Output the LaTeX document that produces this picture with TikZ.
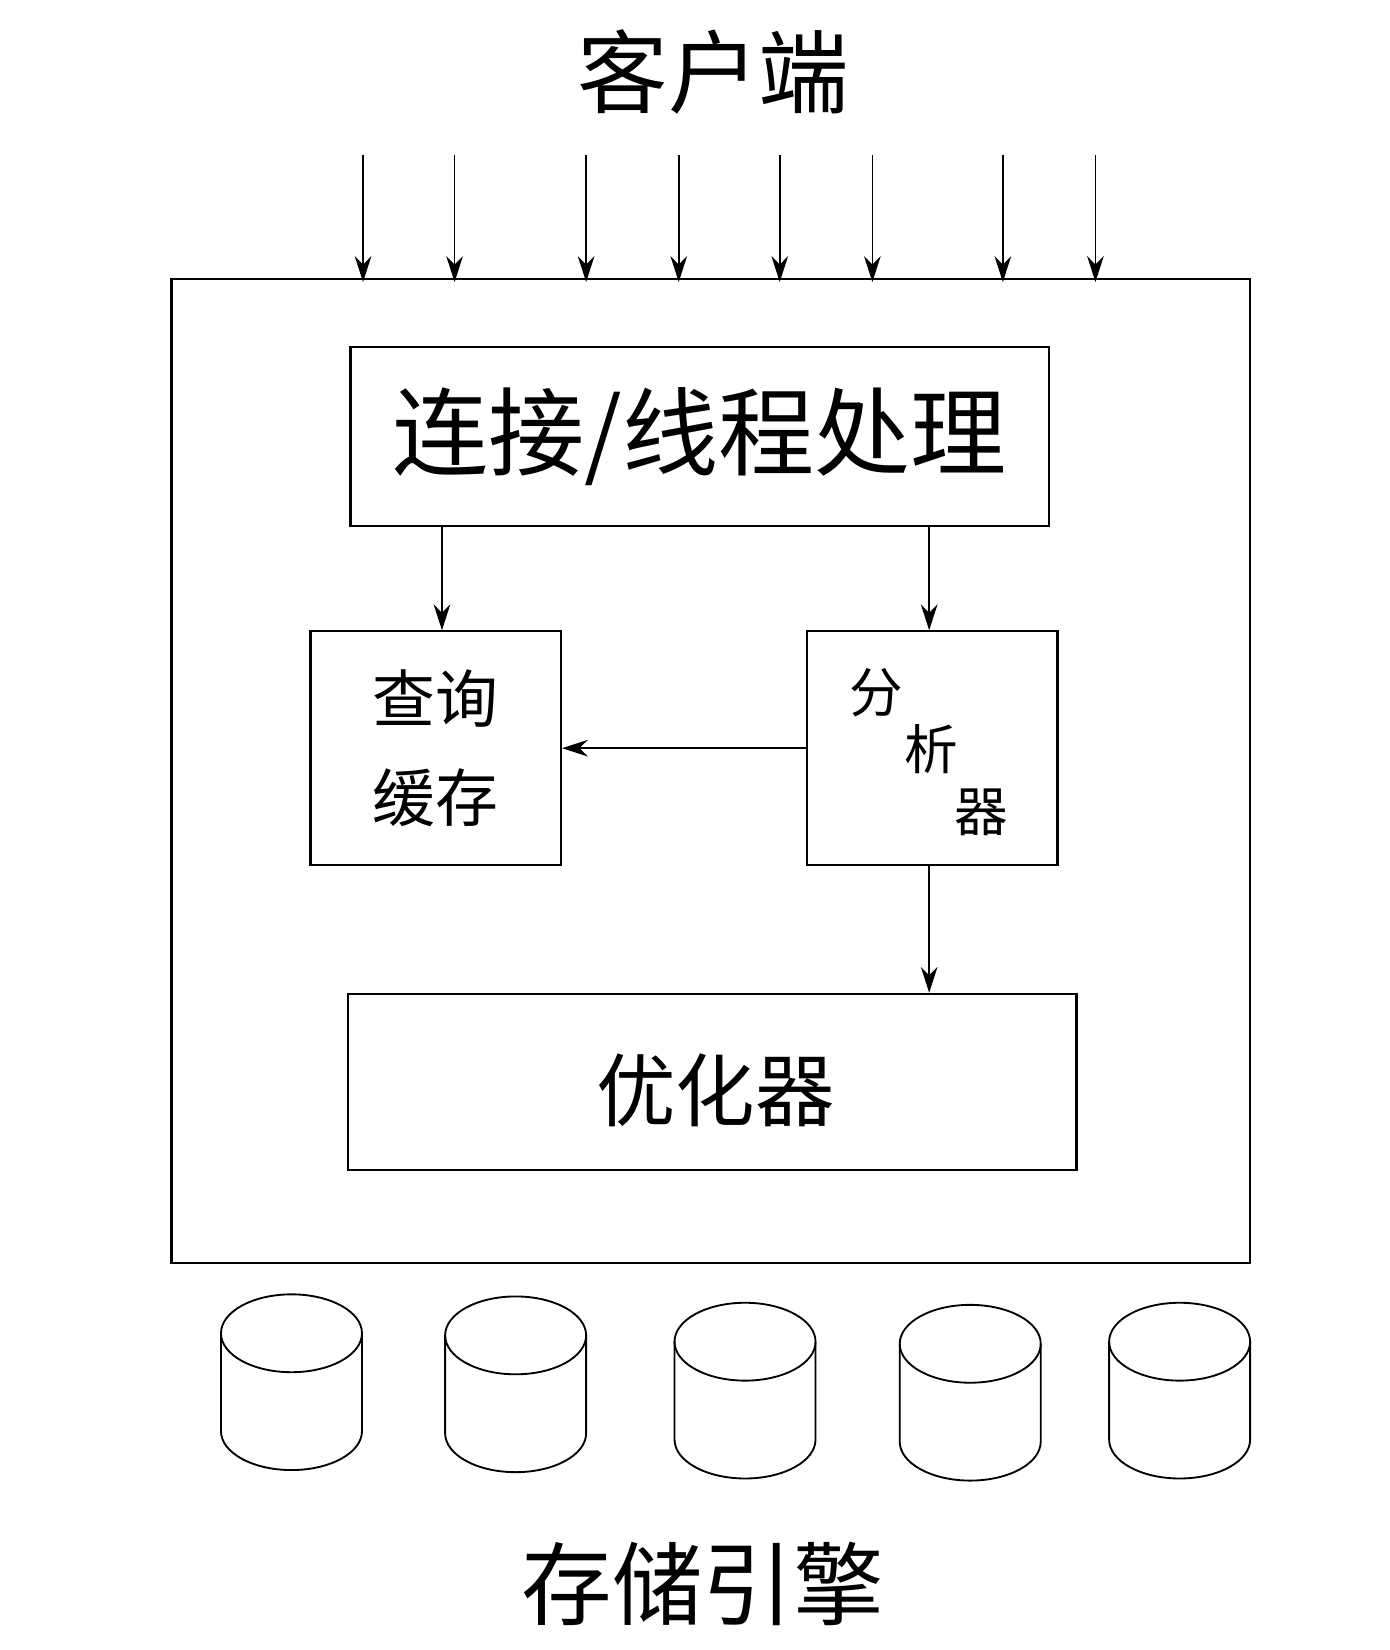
\documentclass[tikz,border=0pt]{standalone}
\usepackage{fontspec}
\setmainfont{Noto Sans CJK SC}
\usetikzlibrary{arrows.meta}
\begin{document}
\begin{tikzpicture}[x=0.02cm,y=-0.02cm,
  box/.style={draw,line width=1.2pt},
  arr/.style={-{Stealth[length=14pt,width=9pt]},line width=0.9pt},
  cyl/.style={draw,line width=1pt}]
\useasboundingbox (0,0) rectangle (1320,1568);
\node[font=\fontsize{49}{52}\selectfont] (title) at (678,68) {客户端};
\draw[box] (163,265) rectangle (1188,1200);
\foreach \x [count=\i] in {345,432,557,645,741,829,953,1041}{
  \coordinate (s\i) at (\x,147);
  \coordinate (e\i) at (\x,268);
  \draw[arr] (s\i) -- (e\i);
}
\node[box,minimum width=664*0.02cm,minimum height=170*0.02cm,font=\fontsize{52}{56}\selectfont] (conn) at (665,415) {连接/线程处理};
\node[box,minimum width=238*0.02cm,minimum height=222*0.02cm,align=center,font=\fontsize{34}{46}\selectfont] (cache) at (414,711) {查询\\[8pt]缓存};
\node[box,minimum width=238*0.02cm,minimum height=222*0.02cm] (ana) at (886,711) {};
\node[font=\fontsize{29}{30}\selectfont] at (833,658) {分};
\node[font=\fontsize{29}{30}\selectfont] at (885,712) {析};
\node[font=\fontsize{29}{30}\selectfont] at (933,772) {器};
\node[box,minimum width=692*0.02cm,minimum height=167*0.02cm] (opt) at (677,1028) {};
\node[font=\fontsize{43}{46}\selectfont] (optl) at (680,1036) {优化器};
\draw[arr] (420,500) -- (cache.north -| 420,0);
\draw[arr] (883,500) -- (ana.north -| 883,0);
\draw[arr] (ana.west) -- (cache.east);
\draw[arr] (883,822) -- (opt.north -| 883,0);
\foreach \x/\t in {277/1230,490/1232,708/1238,922/1240,1121/1238}{
  \draw[cyl] (\x-67,\t+37) -- (\x-67,\t+130) arc[start angle=180,end angle=360,x radius=67,y radius=-37] -- (\x+67,\t+37);
  \draw[cyl] (\x,\t+37) ellipse[x radius=67,y radius=37];
}
\node[font=\fontsize{49}{52}\selectfont] (store) at (668,1505) {存储引擎};
\end{tikzpicture}
\end{document}
